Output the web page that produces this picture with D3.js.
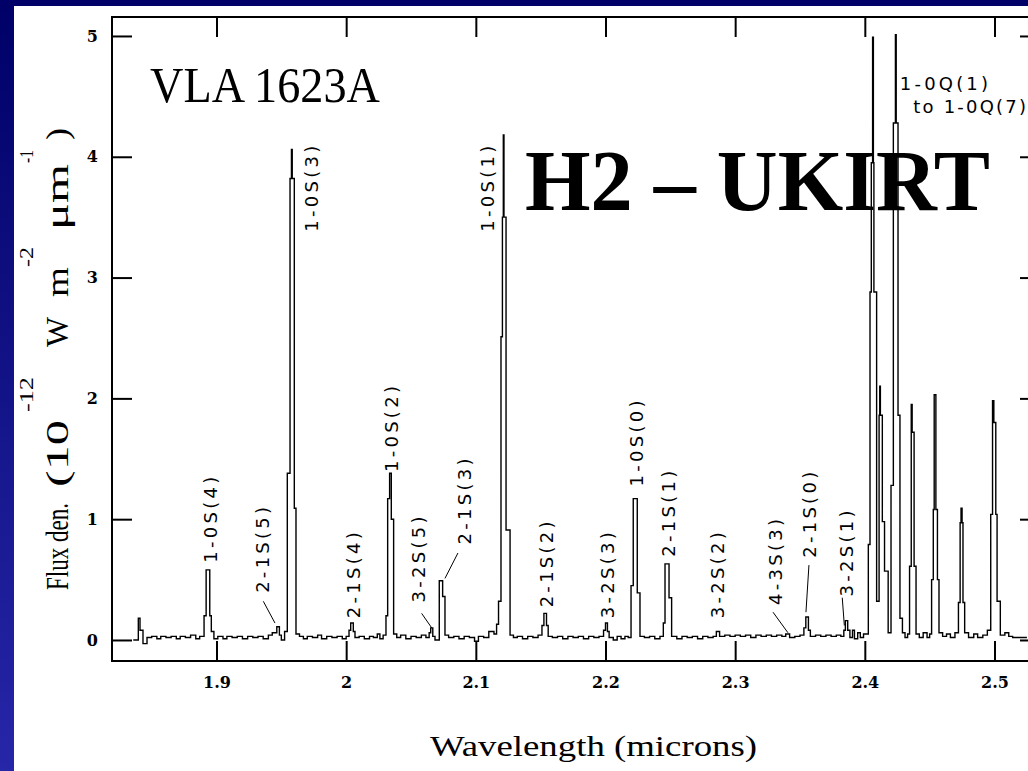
<!DOCTYPE html>
<html>
<head>
<meta charset="utf-8">
<script src="https://cdn.jsdelivr.net/npm/d3@7"></script>
<style>
  body { margin: 0; background: #000068; }
  svg { display: block; }
</style>
</head>
<body>
<script>
// spectrum of VLA 1623A, [wavelength (microns), flux density], drawn as steps
var spectrum = [
  [1.8358, 0.00], [1.8397, 0.18], [1.8410, 0.08], [1.8433, -0.03], [1.8464, 0.02],
  [1.8500, 0.03], [1.8540, 0.01], [1.8570, 0.03], [1.8610, 0.02], [1.8650, 0.03],
  [1.8690, 0.01], [1.8720, 0.03], [1.8760, 0.02], [1.8800, 0.04], [1.8840, 0.01],
  [1.8870, 0.03], [1.8904, 0.20], [1.8920, 0.58], [1.8948, 0.20], [1.8960, 0.07],
  [1.8980, 0.01], [1.9010, 0.03], [1.9050, 0.01], [1.9080, 0.03], [1.9120, 0.02],
  [1.9160, 0.03], [1.9200, 0.01], [1.9240, 0.03], [1.9280, 0.02], [1.9320, 0.03],
  [1.9360, 0.01], [1.9400, 0.04], [1.9430, 0.06], [1.9465, 0.11], [1.9485, 0.04],
  [1.9500, 0.00], [1.9525, 0.07], [1.9546, 1.38], [1.9567, 3.82], [1.9578, 4.06],
  [1.9584, 3.82], [1.9600, 1.09], [1.9613, 0.05], [1.9640, 0.03], [1.9670, 0.01],
  [1.9700, 0.03], [1.9740, 0.02], [1.9780, 0.04], [1.9810, 0.01], [1.9850, 0.03],
  [1.9890, 0.02], [1.9930, 0.03], [1.9970, 0.01], [2.0000, 0.03], [2.0022, 0.08],
  [2.0035, 0.14], [2.0055, 0.07], [2.0068, 0.02], [2.0100, 0.03], [2.0140, 0.01],
  [2.0180, 0.03], [2.0210, 0.02], [2.0240, 0.05], [2.0260, 0.01], [2.0285, 0.04],
  [2.0307, 0.20], [2.0320, 1.17], [2.0335, 1.38], [2.0348, 1.00], [2.0366, 0.05],
  [2.0390, 0.02], [2.0420, 0.04], [2.0460, 0.01], [2.0500, 0.03], [2.0540, 0.02],
  [2.0580, 0.04], [2.0615, 0.02], [2.0640, 0.06], [2.0652, 0.10], [2.0668, 0.03],
  [2.0685, 0.00], [2.0718, 0.49], [2.0744, 0.36], [2.0762, 0.04], [2.0790, 0.02],
  [2.0830, 0.03], [2.0870, 0.01], [2.0910, 0.03], [2.0950, 0.02], [2.0990, -0.01],
  [2.1020, 0.03], [2.1060, 0.02], [2.1100, 0.07], [2.1140, 0.05], [2.1160, 0.13],
  [2.1175, 0.32], [2.1194, 2.51], [2.1205, 3.50], [2.1212, 4.18], [2.1217, 3.50],
  [2.1233, 0.91], [2.1264, 0.04], [2.1290, 0.02], [2.1320, 0.03], [2.1360, 0.01],
  [2.1400, 0.03], [2.1440, 0.02], [2.1480, 0.04], [2.1510, 0.12], [2.1525, 0.22],
  [2.1545, 0.12], [2.1558, 0.03], [2.1590, 0.02], [2.1630, 0.03], [2.1670, 0.01],
  [2.1710, 0.03], [2.1750, 0.02], [2.1790, 0.03], [2.1830, 0.01], [2.1870, 0.03],
  [2.1910, 0.02], [2.1950, 0.03], [2.1985, 0.08], [2.2000, 0.14], [2.2015, 0.07],
  [2.2028, 0.02], [2.2060, 0.00], [2.2090, 0.03], [2.2120, 0.01], [2.2150, 0.03],
  [2.2175, 0.02], [2.2197, 0.45], [2.2214, 1.17], [2.2245, 0.39], [2.2266, 0.03],
  [2.2300, 0.02], [2.2340, 0.03], [2.2380, 0.01], [2.2420, 0.03], [2.2446, 0.14],
  [2.2459, 0.63], [2.2490, 0.35], [2.2510, 0.03], [2.2550, 0.01], [2.2590, 0.03],
  [2.2630, 0.02], [2.2670, 0.03], [2.2710, 0.01], [2.2750, 0.03], [2.2790, 0.02],
  [2.2830, 0.03], [2.2855, 0.07], [2.2880, 0.03], [2.2920, 0.04], [2.2960, 0.03],
  [2.3000, 0.04], [2.3040, 0.03], [2.3080, 0.04], [2.3120, 0.02], [2.3160, 0.04],
  [2.3200, 0.03], [2.3240, 0.04], [2.3280, 0.03], [2.3320, 0.04], [2.3360, 0.03],
  [2.3390, 0.05], [2.3420, 0.02], [2.3460, 0.03], [2.3500, 0.04], [2.3530, 0.10],
  [2.3545, 0.19], [2.3565, 0.08], [2.3580, 0.03], [2.3620, 0.04], [2.3660, 0.03],
  [2.3700, 0.04], [2.3740, 0.03], [2.3780, 0.04], [2.3815, 0.03], [2.3838, 0.08],
  [2.3850, 0.16], [2.3868, 0.08], [2.3885, 0.02], [2.3905, 0.08], [2.3920, 0.01],
  [2.3945, 0.06], [2.3965, 0.02], [2.3990, 0.05], [2.4027, 0.79], [2.4040, 2.88],
  [2.4050, 3.95], [2.4060, 4.99], [2.4066, 3.95], [2.4070, 2.88], [2.4091, 0.32],
  [2.4110, 1.86], [2.4115, 2.10], [2.4120, 1.86], [2.4135, 0.98], [2.4152, 0.57],
  [2.4180, 0.06], [2.4202, 1.28], [2.4220, 4.28], [2.4236, 5.01], [2.4242, 4.28],
  [2.4256, 1.86], [2.4271, 0.18], [2.4290, 0.06], [2.4310, 0.02], [2.4330, 0.05],
  [2.4345, 0.61], [2.4358, 1.95], [2.4365, 1.72], [2.4380, 0.61], [2.4395, 0.05],
  [2.4420, 0.02], [2.4450, 0.06], [2.4480, 0.02], [2.4500, 0.05], [2.4515, 0.50],
  [2.4528, 1.08], [2.4535, 2.03], [2.4548, 1.08], [2.4560, 0.50], [2.4572, 0.06],
  [2.4600, 0.03], [2.4630, 0.05], [2.4660, 0.02], [2.4695, 0.06], [2.4722, 0.31],
  [2.4735, 0.97], [2.4742, 1.09], [2.4750, 0.97], [2.4757, 0.31], [2.4770, 0.06],
  [2.4800, 0.02], [2.4840, 0.05], [2.4870, 0.02], [2.4910, 0.04], [2.4945, 0.08],
  [2.4971, 1.04], [2.4985, 1.98], [2.4995, 1.80], [2.5010, 1.04], [2.5020, 0.32],
  [2.5045, 0.04], [2.5080, 0.06], [2.5110, 0.03], [2.5140, 0.02], [2.5250, 0.02]
];

// H2 line ids: wavelength of label centre, flux at the foot of the label
var lineLabels = [
  { name: "1-0S(4)", wl: 1.8950, at: 0.64 },
  { name: "2-1S(5)", wl: 1.9355, at: 0.39 },
  { name: "1-0S(3)", wl: 1.9733, at: 3.38 },
  { name: "2-1S(4)", wl: 2.0060, at: 0.18 },
  { name: "1-0S(2)", wl: 2.0347, at: 1.39 },
  { name: "3-2S(5)", wl: 2.0557, at: 0.31 },
  { name: "2-1S(3)", wl: 2.0916, at: 0.79 },
  { name: "1-0S(1)", wl: 2.1090, at: 3.38 },
  { name: "2-1S(2)", wl: 2.1548, at: 0.27 },
  { name: "3-2S(3)", wl: 2.2015, at: 0.18 },
  { name: "1-0S(0)", wl: 2.2242, at: 1.27 },
  { name: "2-1S(1)", wl: 2.2489, at: 0.69 },
  { name: "3-2S(2)", wl: 2.2867, at: 0.18 },
  { name: "4-3S(3)", wl: 2.3314, at: 0.29 },
  { name: "2-1S(0)", wl: 2.3576, at: 0.68 },
  { name: "3-2S(1)", wl: 2.3860, at: 0.36 }
];

// leader lines from a label to its line, [wl1, flux1, wl2, flux2]
var leaders = [
  [1.9361, 0.32, 1.9451, 0.14],
  [2.0582, 0.22, 2.0660, 0.10],
  [2.0862, 0.72, 2.0762, 0.51],
  [2.3292, 0.23, 2.3407, 0.06],
  [2.3569, 0.62, 2.3546, 0.23],
  [2.3826, 0.35, 2.3842, 0.12]
];

// Q branch note, upright text
var qLabels = [
  { name: "1-0Q(1)", wl: 2.4270, at: 4.55 },
  { name: "to 1-0Q(7)", wl: 2.4374, at: 4.36 }
];

var xTicks = [1.9, 2.0, 2.1, 2.2, 2.3, 2.4, 2.5];
var yTicks = [0, 1, 2, 3, 4, 5];

var width = 1028, height = 771;
var frame = { left: 112, right: 1040, top: 17, bottom: 661 };

var svg = d3.select("body").append("svg")
  .attr("width", width)
  .attr("height", height);

// slide background
var grad = svg.append("defs").append("linearGradient")
  .attr("id", "slide").attr("x1", 0).attr("y1", 0).attr("x2", 0).attr("y2", 1);
grad.append("stop").attr("offset", "0%").attr("stop-color", "#000068");
grad.append("stop").attr("offset", "100%").attr("stop-color", "#2626a8");
svg.append("rect").attr("width", width).attr("height", height).attr("fill", "url(#slide)");
svg.append("rect").attr("x", 14).attr("y", 6)
  .attr("width", width - 14).attr("height", height - 6).attr("fill", "#fff");

// scales
var x = d3.scaleLinear().domain([1.8194, 2.5351]).range([frame.left, frame.right]);
var y = d3.scaleLinear().domain([-0.174, 5.157]).range([frame.bottom, frame.top]);

// axes, ticks point inward on all four sides
var tickFont = "'DejaVu Serif', serif";
var plain = d3.format("~g");
var xAxis = d3.axisBottom(x).tickValues(xTicks).tickSize(-20).tickPadding(16).tickFormat(plain);
var yAxis = d3.axisLeft(y).tickValues(yTicks).tickSize(-20).tickPadding(14).tickFormat(plain);

svg.append("g").attr("transform", "translate(0," + frame.bottom + ")").call(xAxis);
svg.append("g").attr("transform", "translate(" + frame.left + ",0)").call(yAxis);
svg.append("g").attr("transform", "translate(0," + frame.top + ")")
  .call(d3.axisTop(x).tickValues(xTicks).tickSize(-20).tickFormat(""));
svg.append("g").attr("transform", "translate(" + frame.right + ",0)")
  .call(d3.axisRight(y).tickValues(yTicks).tickSize(-20).tickFormat(""));

svg.selectAll(".domain").remove();
svg.selectAll(".tick line").attr("stroke", "#000").attr("stroke-width", 2);
svg.selectAll(".tick text")
  .attr("fill", "#000")
  .style("font-family", tickFont)
  .style("font-weight", "bold")
  .style("font-size", "16px");

// plot frame
svg.append("rect")
  .attr("x", frame.left).attr("y", frame.top)
  .attr("width", frame.right - frame.left).attr("height", frame.bottom - frame.top)
  .attr("fill", "none").attr("stroke", "#000").attr("stroke-width", 2);

// spectrum
var line = d3.line()
  .x(function(d) { return x(d[0]); })
  .y(function(d) { return y(d[1]); })
  .curve(d3.curveStepAfter);

svg.append("path")
  .datum(spectrum)
  .attr("d", line)
  .attr("fill", "none")
  .attr("stroke", "#000")
  .attr("stroke-width", 1.4);

// line labels, reading upward
var labelFont = "'DejaVu Sans', sans-serif";
svg.selectAll(".idlabel")
  .data(lineLabels)
  .enter().append("text")
  .attr("class", "idlabel")
  .attr("transform", function(d) {
    return "translate(" + x(d.wl) + "," + y(d.at) + ") rotate(-90)";
  })
  .attr("dominant-baseline", "central")
  .attr("textLength", 86)
  .style("font-family", labelFont)
  .style("font-size", "18px")
  .text(function(d) { return d.name; });

svg.selectAll(".leader")
  .data(leaders)
  .enter().append("line")
  .attr("class", "leader")
  .attr("x1", function(d) { return x(d[0]); })
  .attr("y1", function(d) { return y(d[1]); })
  .attr("x2", function(d) { return x(d[2]); })
  .attr("y2", function(d) { return y(d[3]); })
  .attr("stroke", "#000")
  .attr("stroke-width", 1);

svg.selectAll(".qlabel")
  .data(qLabels)
  .enter().append("text")
  .attr("class", "qlabel")
  .attr("x", function(d) { return x(d.wl); })
  .attr("y", function(d) { return y(d.at); })
  .attr("textLength", function(d) { return Math.min(d.name.length * 12.6, width - 2 - x(d.wl)); })
  .style("font-family", labelFont)
  .style("font-size", "18px")
  .text(function(d) { return d.name; });

// axis titles
var serif = "'Liberation Serif', 'Times New Roman', serif";
svg.append("text")
  .attr("x", 430).attr("y", 756)
  .attr("textLength", 327).attr("lengthAdjust", "spacingAndGlyphs")
  .style("font-family", serif).style("font-size", "30px")
  .text("Wavelength (microns)");

// y title is set piece by piece so the superscripts sit like the original
var yTitle = svg.append("g").attr("transform", "translate(68,590) rotate(-90)");
var yParts = [
  { t: "Flux den.", d: 0, len: 87, sup: false },
  { t: "(10", d: 103, len: 67, sup: false },
  { t: "-12", d: 178, len: 35, sup: true },
  { t: "W", d: 243, len: 30, sup: false },
  { t: "m", d: 293, len: 30, sup: false },
  { t: "-2", d: 323, len: 20, sup: true },
  { t: "\u03bcm", d: 360, len: 66, sup: false },
  { t: "-1", d: 427, len: 13, sup: true },
  { t: ")", d: 450, len: 12, sup: false }
];
yTitle.selectAll("text")
  .data(yParts)
  .enter().append("text")
  .attr("x", function(d) { return d.d; })
  .attr("y", function(d) { return d.sup ? -35 : 0; })
  .attr("textLength", function(d) { return d.len; })
  .attr("lengthAdjust", "spacingAndGlyphs")
  .style("font-family", serif)
  .style("font-size", function(d) { return d.sup ? "19px" : "31px"; })
  .text(function(d) { return d.t; });

// object name and slide heading
svg.append("text")
  .attr("x", 150).attr("y", 102)
  .attr("textLength", 230).attr("lengthAdjust", "spacingAndGlyphs")
  .style("font-family", serif).style("font-size", "50px")
  .text("VLA 1623A");

svg.append("text")
  .attr("x", 525).attr("y", 210)
  .attr("textLength", 465).attr("lengthAdjust", "spacingAndGlyphs")
  .style("font-family", serif).style("font-size", "86px").style("font-weight", "bold")
  .text("H2 \u2013 UKIRT");
</script>
</body>
</html>
